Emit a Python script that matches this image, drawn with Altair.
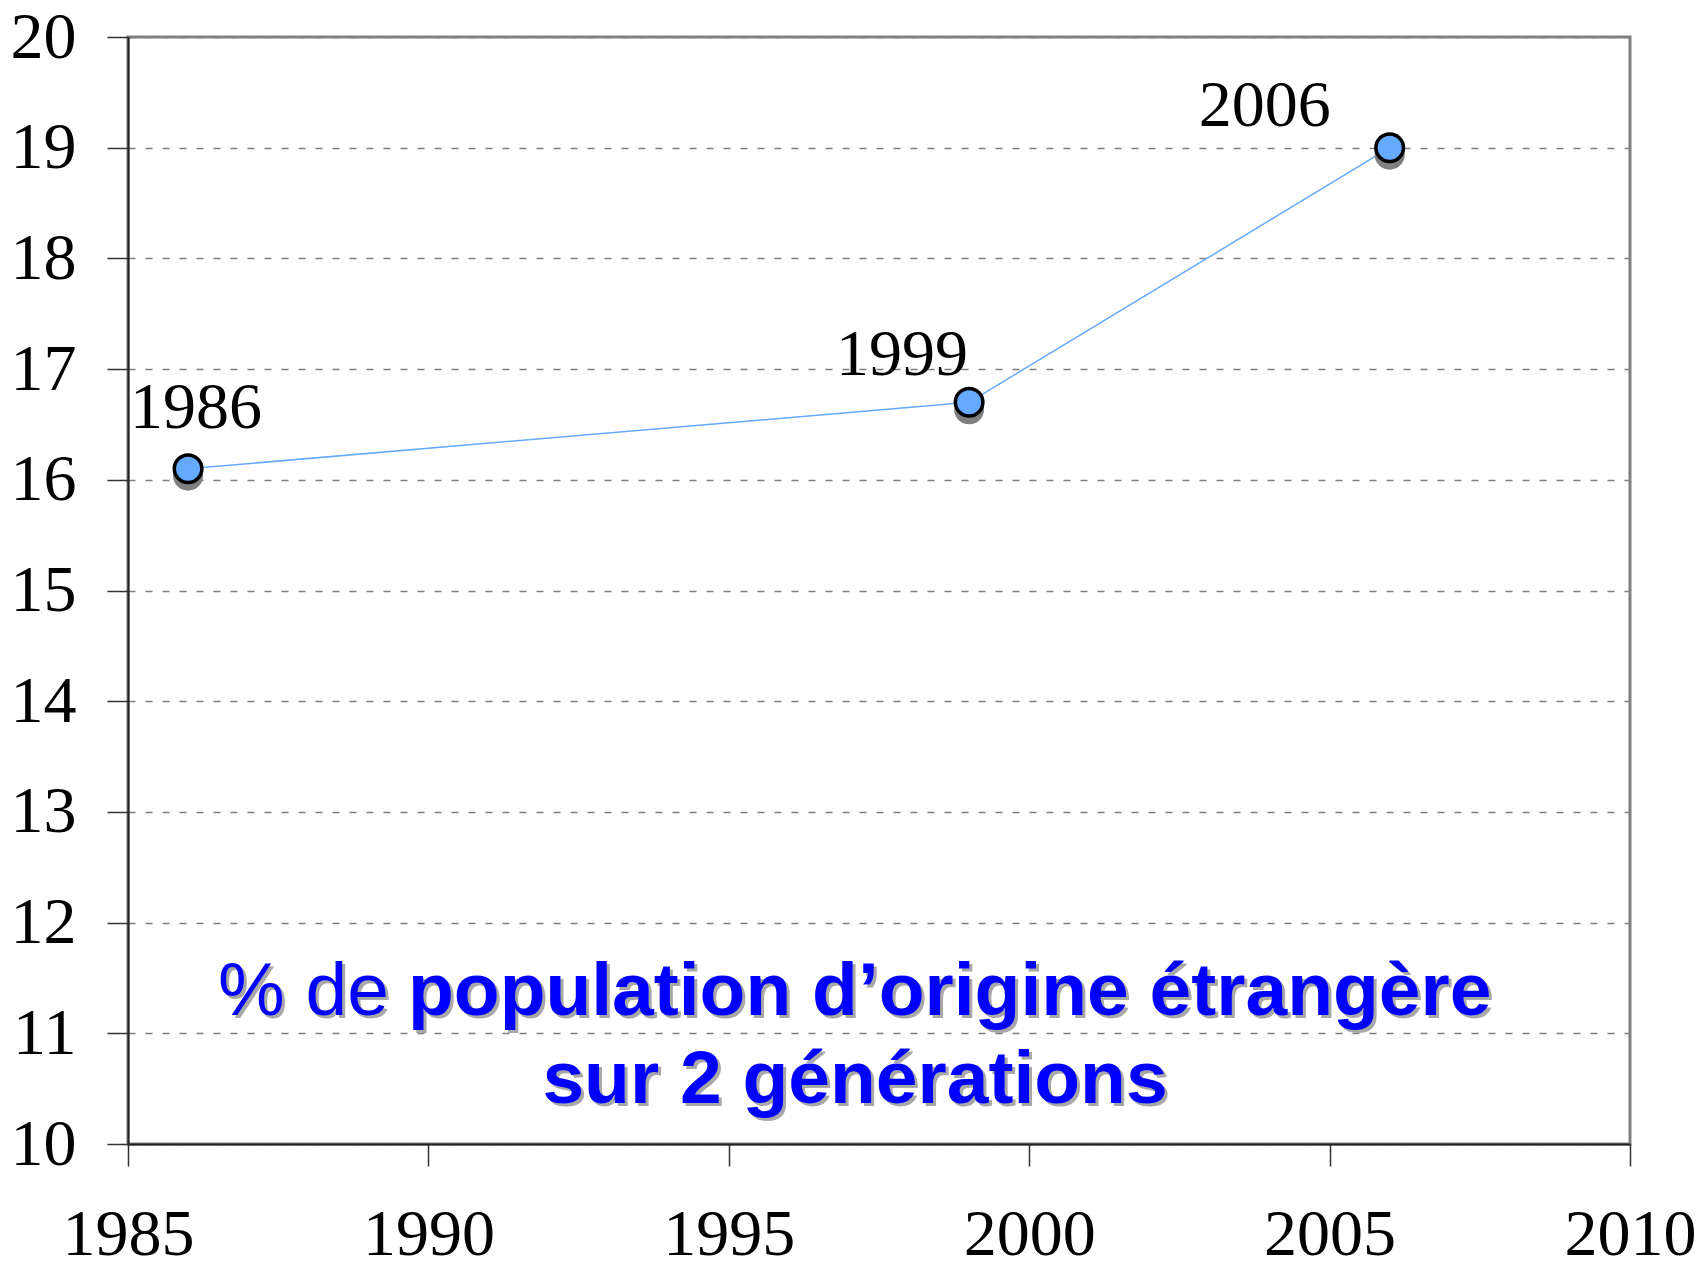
import altair as alt
import pandas as pd

# ---- data ----
years = [1986, 1999, 2006]
values = [16.1, 16.7, 19.0]
point_labels = ["1986", "1999", "2006"]
x_ticks = [1985, 1990, 1995, 2000, 2005, 2010]
y_ticks = [10, 11, 12, 13, 14, 15, 16, 17, 18, 19, 20]
note_regular = "% de"
note_bold = "population d’origine étrangère"
note_line2 = "sur 2 générations"

df = pd.DataFrame({"year": years, "value": values, "label": point_labels})

# ---- style ----
SERIF = "Liberation Serif"
SANS = "Liberation Sans"
W, H = 1502, 1107
BLUE_PT = "#66AAFF"
label_offsets = {"1986": (8, -41), "1999": (-67, -27), "2006": (-125, -22)}

xenc = alt.X(
    "year:Q",
    scale=alt.Scale(domain=[1985, 2010], nice=False, zero=False),
    axis=alt.Axis(
        values=x_ticks, format="d", title=None, grid=False,
        tickSize=22, tickWidth=1.5, tickColor="#333333",
        labelPadding=88, labelBaseline="alphabetic", labelFlush=False,
        labelFont=SERIF, labelFontSize=66, labelColor="#000000",
        domainColor="#222222", domainWidth=2, labelOverlap=False,
    ),
)
yenc = alt.Y(
    "value:Q",
    scale=alt.Scale(domain=[10, 20], nice=False, zero=False),
    axis=alt.Axis(
        values=y_ticks, title=None, grid=True,
        gridDash=[7, 10], gridColor="#808080", gridWidth=1.5,
        tickSize=21, tickWidth=1.5, tickColor="#333333",
        labelPadding=31, labelFlush=False,
        labelFont=SERIF, labelFontSize=66, labelColor="#000000",
        domainColor="#222222", domainWidth=2, labelOverlap=False,
    ),
)

base = alt.Chart(df).encode(x=xenc, y=yenc)

line = base.mark_line(color=BLUE_PT, strokeWidth=1.5)
shadow = base.mark_circle(size=900, color="#808080", opacity=1, yOffset=7)
points = base.mark_circle(size=760, color=BLUE_PT, opacity=1, stroke="#000000", strokeWidth=3.5)

label_layers = []
for lab, (dx, dy) in label_offsets.items():
    label_layers.append(
        base.transform_filter(alt.datum.label == lab)
        .mark_text(font=SERIF, fontSize=66, color="#000000", align="center",
                   baseline="alphabetic", dx=dx, dy=dy)
        .encode(text="label:N")
    )

ann_df = pd.DataFrame({"a": [0]})


def note(text, xpix, ypix, align, weight, color, off=0):
    return alt.Chart(ann_df).mark_text(
        text=text, font=SANS, fontSize=75, fontWeight=weight, color=color,
        align=align, baseline="alphabetic", dx=off, dy=off,
    ).encode(x=alt.value(xpix), y=alt.value(ypix))


notes = []
for off, col in [(3, "#A8A8A8"), (0, "#0000FF")]:
    notes.append(note(note_regular, 261, 978, "right", "normal", col, off))
    notes.append(note(note_bold, 280, 978, "left", "bold", col, off))
    notes.append(note(note_line2, 727, 1066, "center", "bold", col, off))

chart = alt.layer(line, shadow, points, *label_layers, *notes).properties(
    width=W, height=H,
    autosize=alt.AutoSizeParams(type="none"),
    padding={"left": 120, "top": 29, "right": 64, "bottom": 117},
    background="white",
).configure_view(stroke="#808080", strokeWidth=3)

chart.save("out.html", embed_options={"renderer": "svg", "actions": False})
